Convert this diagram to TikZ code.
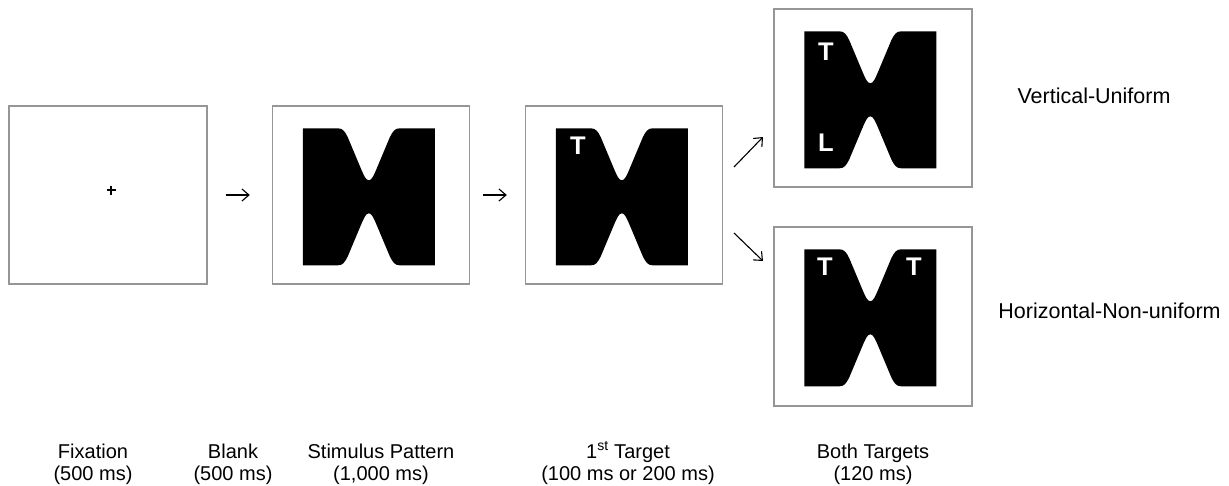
\documentclass[tikz,border=0pt]{standalone}
\usepackage{fontspec}
\setmainfont{Liberation Sans}
\usetikzlibrary{arrows.meta}
\definecolor{framegray}{RGB}{150,150,150}
\tikzset{
  frame/.style={draw=framegray, line width=1.4pt, minimum width=197pt, minimum height=178pt, inner sep=0pt},
  arr/.style={line width=1.1pt, -{Straight Barb[length=7pt,width=12pt,line width=1.1pt]}},
  lettr/.style={text=white, font=\fontsize{25.5}{26}\selectfont\bfseries, inner sep=0pt},
  steplabel/.style={align=center, font=\fontsize{20}{22}\selectfont, anchor=base, inner sep=0pt},
  condlabel/.style={font=\fontsize{21.5}{24}\selectfont, anchor=base, inner sep=0pt},
  hpat/.pic={
    \fill[black] (0,0) -- (35,0) .. controls (40,0) and (42,3) .. (45,9) -- (58,40)
      .. controls (61,47) and (63,52) .. (66,52) .. controls (69,52) and (71,47) .. (74,40)
      -- (87,9) .. controls (90,3) and (92,0) .. (97,0) -- (132,0) -- (132,137)
      -- (97,137) .. controls (92,137) and (90,134) .. (87,128) -- (74,97)
      .. controls (71,90) and (69,85) .. (66,85) .. controls (63,85) and (61,90) .. (58,97)
      -- (45,128) .. controls (42,134) and (40,137) .. (35,137) -- (0,137) -- cycle;
  }
}
\begin{document}
\begin{tikzpicture}[x=1pt,y=-1pt]
\useasboundingbox (0,0) rectangle (1229,485);
% frames
\node[frame, minimum width=198pt] (f1) at (108,195) {};
\node[frame] (f2) at (371,195) {};
\node[frame] (f3) at (624,195) {};
\node[frame, minimum width=198pt] (f4) at (873,98) {};
\node[frame, minimum width=198pt, minimum height=179pt] (f5) at (873,316.5) {};
% fixation cross
\coordinate (fx) at (111,190);
\draw[line width=1.1pt] ([xshift=-4.5pt]fx) -- ([xshift=4.5pt]fx) ([yshift=-4.5pt]fx) -- ([yshift=4.5pt]fx);
% patterns
\pic at ([shift={(31,23)}]f2.north west) {hpat};
\pic at ([shift={(31,23)}]f3.north west) {hpat};
\pic at ([shift={(31,23)}]f4.north west) {hpat};
\pic at ([shift={(31,23)}]f5.north west) {hpat};
% letters
\node[lettr] (t1) at (578,146) {T};
\node[lettr] (t2) at (826,52) {T};
\node[lettr] (l2) at (826,143) {L};
\node[lettr] (t3) at (825,267) {T};
\node[lettr] (t4) at (914,267) {T};
% arrows
\draw[arr, shorten <=18pt, shorten >=22pt] (f1) -- (f2);
\draw[arr, shorten <=13pt, shorten >=18pt] (f2) -- (f3);
\coordinate (u1) at (734,167);
\coordinate (u2) at (763,137);
\coordinate (d1) at (734,233);
\coordinate (d2) at (763,261);
\draw[arr] (u1) -- (u2);
\draw[arr] (d1) -- (d2);
% condition labels
\node[condlabel] (vu) at (1094,103) {Vertical-Uniform};
\node[condlabel] (hn) at (1109.5,318) {Horizontal-Non-uniform};
% step labels
\node[steplabel] (s1) at (93,480) {Fixation\\(500 ms)};
\node[steplabel] (s2) at (233,480) {Blank\\(500 ms)};
\node[steplabel] (s3) at (381,480) {Stimulus Pattern\\(1,000 ms)};
\node[steplabel] (s4) at (628,480) {1\textsuperscript{st} Target\\(100 ms or 200 ms)};
\node[steplabel] (s5) at (873,480) {Both Targets\\(120 ms)};
\end{tikzpicture}
\end{document}
